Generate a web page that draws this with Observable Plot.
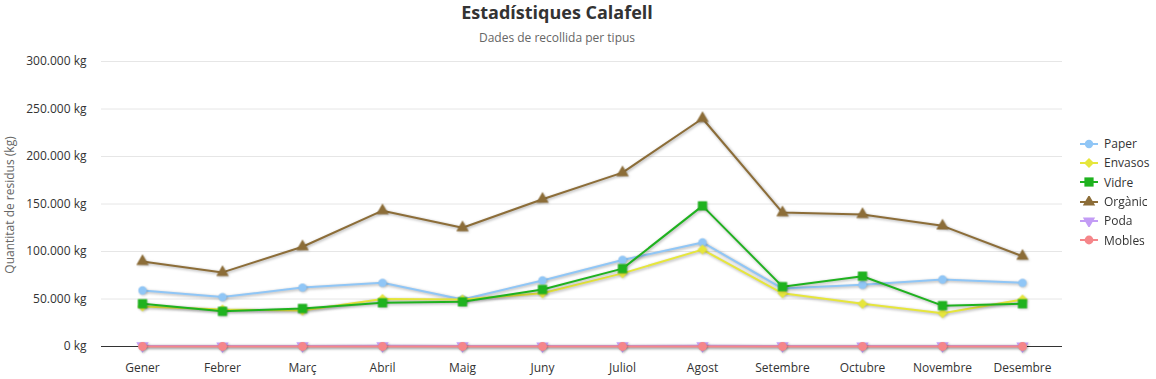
<!DOCTYPE html>
<html>
<head>
<meta charset="utf-8">
<script src="https://cdn.jsdelivr.net/npm/d3@7"></script>
<script src="https://cdn.jsdelivr.net/npm/@observablehq/plot@0.6"></script>
<style>
  html, body { margin: 0; padding: 0; background: #fff; }
  #wrap { position: relative; width: 1156px; height: 379px; font-family: "Open Sans", "Noto Sans", sans-serif; overflow: hidden; }
  #title { position: absolute; left: 0; top: 0; width: 1114px; text-align: center; font-size: 18px; font-weight: bold; color: #333; line-height: 24px; }
  #subtitle { position: absolute; left: 0; top: 29px; width: 1114px; text-align: center; font-size: 12px; color: #666; line-height: 18px; }
  #chart { position: absolute; left: 0; top: 50px; }
  #ytitle { position: absolute; left: 9px; top: 205px; transform: translate(-50%, -50%) rotate(-90deg); font-size: 12px; color: #666; white-space: nowrap; }
  #legend { position: absolute; left: 1078px; top: 134px; font-size: 12px; color: #333; }
  .li { display: flex; align-items: center; height: 19.3px; }
  .li svg { margin-right: 4px; }
</style>
</head>
<body>
<div id="wrap">
  <div id="title">Estadístiques Calafell</div>
  <div id="subtitle">Dades de recollida per tipus</div>
  <div id="chart"></div>
  <div id="ytitle">Quantitat de residus (kg)</div>
  <div id="legend"></div>
</div>
<script>
const months = ["Gener","Febrer","Març","Abril","Maig","Juny","Juliol","Agost","Setembre","Octubre","Novembre","Desembre"];
const seriesNames = ["Paper","Envasos","Vidre","Orgànic","Poda","Mobles"];
const paper   = [59000, 52000, 62000, 67000, 49500, 69500, 91000, 109500, 61000, 65000, 70500, 67000];
const envasos = [42000, 39000, 38000, 50000, 49500, 56000, 77000, 102000, 56000, 45000, 35000, 49500];
const vidre   = [45000, 37000, 40000, 46000, 47000, 60000, 82000, 148000, 63000, 74000, 43000, 45000];
const organic = [89500, 78000, 105000, 143000, 125000, 155000, 183000, 240000, 141000, 139000, 127000, 95000];
const poda    = [600, 500, 600, 700, 600, 500, 600, 700, 600, 500, 600, 500];
const mobles  = [0, 0, 0, 0, 0, 0, 0, 0, 0, 0, 0, 0];
const yTicks  = [0, 50000, 100000, 150000, 200000, 250000, 300000];

const colors = ["#90c6f6", "#e6e63c", "#1fb21f", "#8c6d38", "#c39cf5", "#f5868a"];
const triangleDown = {
  draw(context, size) {
    const sqrt3 = Math.sqrt(3);
    const y = -Math.sqrt(size / (sqrt3 * 3));
    context.moveTo(0, -y * 2);
    context.lineTo(-sqrt3 * y, y);
    context.lineTo(sqrt3 * y, y);
    context.closePath();
  }
};
const rhombus = {
  draw(context, size) {
    const h = Math.sqrt(size / 2);
    context.moveTo(0, -h);
    context.lineTo(h, 0);
    context.lineTo(0, h);
    context.lineTo(-h, 0);
    context.closePath();
  }
};
const symbols = [d3.symbolCircle, rhombus, d3.symbolSquare, d3.symbolTriangle, triangleDown, d3.symbolCircle];
const radii = [4.2, 4.0, 5.2, 4.6, 4.6, 4.4];
const values = [paper, envasos, vidre, organic, poda, mobles];

const fmt = d => d3.format(",")(d).replace(/,/g, ".") + " kg";

const marks = [
  Plot.ruleY(yTicks.filter(d => d > 0), {stroke: "#e6e6e6", strokeWidth: 1}),
  Plot.ruleY([0], {stroke: "#333", strokeWidth: 1})
];
seriesNames.forEach((name, i) => {
  const data = months.map((m, j) => ({month: m, value: values[i][j]}));
  marks.push(Plot.line(data, {x: "month", y: "value", stroke: colors[i], strokeWidth: 2}));
  marks.push(Plot.dot(data, {x: "month", y: "value", fill: colors[i], stroke: "none", symbol: () => symbols[i], r: radii[i]}));
});

const chart = Plot.plot({
  width: 1156,
  height: 329,
  marginLeft: 101,
  marginRight: 94,
  marginTop: 11,
  marginBottom: 33,
  style: {fontFamily: '"Open Sans", "Noto Sans", sans-serif', fontSize: "12px", color: "#333", background: "#fff"},
  x: {type: "point", domain: months, padding: 0.5, label: null, tickSize: 0, tickPadding: 17},
  y: {domain: [0, 300000], ticks: yTicks, tickFormat: fmt, label: null, tickSize: 0, tickPadding: 15},
  symbol: {type: "identity"},
  marks
});
document.getElementById("chart").appendChild(chart);
chart.querySelectorAll('g[aria-label="line"]').forEach(g => {
  g.style.filter = "drop-shadow(1px 1px 1.5px rgba(0,0,0,0.35))";
});
chart.querySelectorAll('g[aria-label="dot"]').forEach(g => {
  g.style.filter = "drop-shadow(1px 1px 1px rgba(0,0,0,0.2))";
});

// legend
const legend = document.getElementById("legend");
seriesNames.forEach((name, i) => {
  const row = document.createElement("div");
  row.className = "li";
  const s = d3.create("svg").attr("width", 22).attr("height", 12);
  s.append("line").attr("x1", 2).attr("x2", 20).attr("y1", 6).attr("y2", 6).attr("stroke", colors[i]).attr("stroke-width", 2);
  s.append("path").attr("d", d3.symbol(symbols[i], Math.PI * radii[i] * radii[i])()).attr("transform", "translate(11,6)").attr("fill", colors[i]);
  row.appendChild(s.node());
  const t = document.createElement("span");
  t.textContent = name;
  row.appendChild(t);
  legend.appendChild(row);
});
</script>
</body>
</html>
